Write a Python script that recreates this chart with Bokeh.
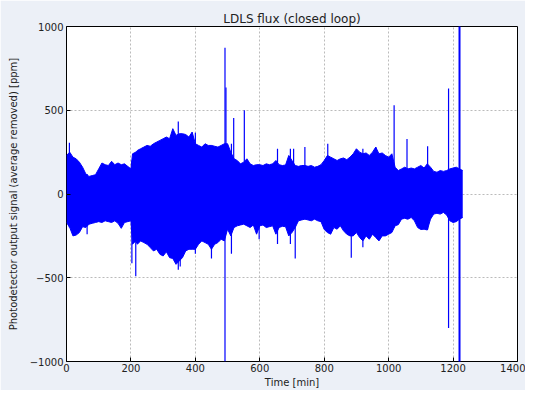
from bokeh.plotting import figure
from bokeh.embed import file_html
from bokeh.resources import INLINE
from bokeh.models import Range1d, FixedTicker

# Envelope of the noisy signal (time in min, upper/lower values in ppm)
env_t = [0, 10, 20, 30, 40, 50, 60, 70, 80, 90, 100, 110, 120, 130, 140, 150, 160, 170, 180, 190, 200,
         205, 215, 220, 230, 240, 250, 260, 270, 280, 290, 300, 310, 320, 330, 340, 350, 360, 370, 380, 390,
         400, 410, 420, 430, 440, 450, 460, 470, 480, 490, 500, 510, 520, 530, 540, 550, 560, 570, 580, 590,
         600, 610, 620, 630, 640, 650, 660, 670, 680, 690, 700, 710, 720, 730, 740, 750, 760, 770, 780, 790,
         800, 810, 820, 830, 840, 850, 860, 870, 880, 890, 900, 910, 920, 930, 940, 950, 960, 970, 980, 990,
         1000, 1010, 1020, 1030, 1040, 1050, 1060, 1070, 1080, 1090, 1100, 1110, 1120, 1130, 1140, 1150,
         1160, 1170, 1180, 1190, 1200, 1210, 1220, 1230]
env_hi = [230, 250, 220, 210, 190, 160, 120, 105, 110, 115, 150, 185, 175, 170, 195, 175, 185, 175, 180, 165, 150,
          240, 250, 260, 270, 280, 290, 285, 300, 310, 320, 330, 340, 330, 390, 350, 360, 360, 355, 340, 370,
          300, 290, 280, 300, 290, 290, 285, 280, 290, 300, 300, 250, 210, 200, 180, 190, 210, 180, 170, 175,
          175, 170, 180, 175, 180, 200, 175, 170, 173, 230, 200, 170, 165, 170, 170, 165, 170, 160, 165, 175,
          200, 230, 220, 210, 200, 210, 215, 205, 220, 240, 270, 250, 240, 245, 230, 250, 280, 240, 245, 230,
          220, 240, 160, 140, 150, 160, 150, 155, 150, 160, 170, 155, 180, 160, 135, 130,
          140, 135, 140, 150, 155, 160, 150, 140]
env_lo = [-170, -200, -250, -245, -230, -195, -200, -180, -175, -170, -165, -170, -160, -165, -170, -160, -175, -205, -170, -165, -160,
          -300, -280, -300, -280, -290, -300, -320, -340, -330, -360, -370, -345, -380, -385, -420, -400, -380, -340, -330, -330,
          -330, -300, -280, -290, -300, -330, -300, -290, -270, -280, -210, -250, -200, -190, -185, -180, -190, -200, -185, -240,
          -190, -185, -200, -195, -190, -240, -200, -193, -195, -250, -230, -200, -160, -155, -150, -155, -160, -150, -160, -165,
          -212, -230, -240, -200, -210, -190, -220, -240, -250, -250, -230, -260, -280, -250, -270, -240, -260, -280, -250, -250,
          -240, -230, -190, -183, -150, -145, -150, -140, -160, -200, -212, -210, -215, -150, -120, -115,
          -120, -110, -125, -160, -170, -165, -150, -140]

# Isolated spikes: time, lowest value, highest value
spike_t = [9, 64, 203, 215, 347, 353, 400, 450, 492, 495, 512, 519, 552, 598, 655, 695, 705, 710, 740, 811,
           884, 920, 960, 1017, 1057, 1121, 1186]
spike_lo = [-200, -240, -414, -491, -452, -433, -356, -385, -1000, -200, -356, -180, -150, -270, -299, -299, -200, -385, -150, -212,
            -380, -318, -230, -200, -150, -212, -800]
spike_hi = [306, 120, 200, 250, 433, 300, 365, 290, 873, 636, 300, 453, 500, 175, 270, 270, 270, 150, 280, 300,
            200, 270, 280, 530, 328, 285, 630]

# Full-scale glitch near the end
glitch_t = [1220]
glitch_lo = [-1300]
glitch_hi = [1300]

x_ticks = [0, 200, 400, 600, 800, 1000, 1200, 1400]
y_ticks = [-1000, -500, 0, 500, 1000]

BG = "#ecf0f7"
BLUE = "#0000ff"

p = figure(width=525, height=390, output_backend="svg", toolbar_location=None,
           x_range=Range1d(0, 1400), y_range=Range1d(-1000, 1000),
           title="LDLS flux (closed loop)",
           min_border_left=66, min_border_right=8, min_border_top=26, min_border_bottom=4)

p.background_fill_color = "white"
p.border_fill_color = BG
p.outline_line_color = "black"
p.outline_line_width = 1

p.title.align = "center"
p.title.text_font = "DejaVu Sans"
p.title.text_font_size = "12px"
p.title.text_font_style = "normal"
p.title.text_color = "#222222"
p.title.standoff = 2

p.varea(x=env_t, y1=env_lo, y2=env_hi, fill_color=BLUE, fill_alpha=1.0)
p.line(env_t, env_hi, line_color=BLUE, line_width=1)
p.line(env_t, env_lo, line_color=BLUE, line_width=1)
p.segment(x0=spike_t, y0=spike_lo, x1=spike_t, y1=spike_hi, line_color=BLUE, line_width=1.2)
p.segment(x0=glitch_t, y0=glitch_lo, x1=glitch_t, y1=glitch_hi, line_color=BLUE, line_width=2)

p.xaxis.ticker = FixedTicker(ticks=x_ticks)
p.yaxis.ticker = FixedTicker(ticks=y_ticks)

for ax in (p.xaxis[0], p.yaxis[0]):
    ax.axis_line_color = None
    ax.major_tick_in = 4
    ax.major_tick_out = 0
    ax.minor_tick_line_color = None
    ax.major_label_text_font = "DejaVu Sans"
    ax.major_label_text_font_size = "10px"
    ax.major_label_text_color = "#222222"
    ax.axis_label_text_font = "DejaVu Sans"
    ax.axis_label_text_font_size = "10px"
    ax.axis_label_text_font_style = "normal"
    ax.axis_label_text_color = "#222222"

p.xaxis.axis_label = "Time [min]"
p.yaxis.axis_label = "Photodetector output signal (average removed) [ppm]"
p.xaxis.axis_label_standoff = 2
p.yaxis.axis_label_standoff = 8
p.xaxis.major_label_standoff = 2
p.yaxis.major_label_standoff = 3

p.grid.grid_line_color = "#bbbbbb"
p.grid.grid_line_dash = "2 2"
p.grid.grid_line_width = 1

open("out.html", "w").write(file_html(p, INLINE))
